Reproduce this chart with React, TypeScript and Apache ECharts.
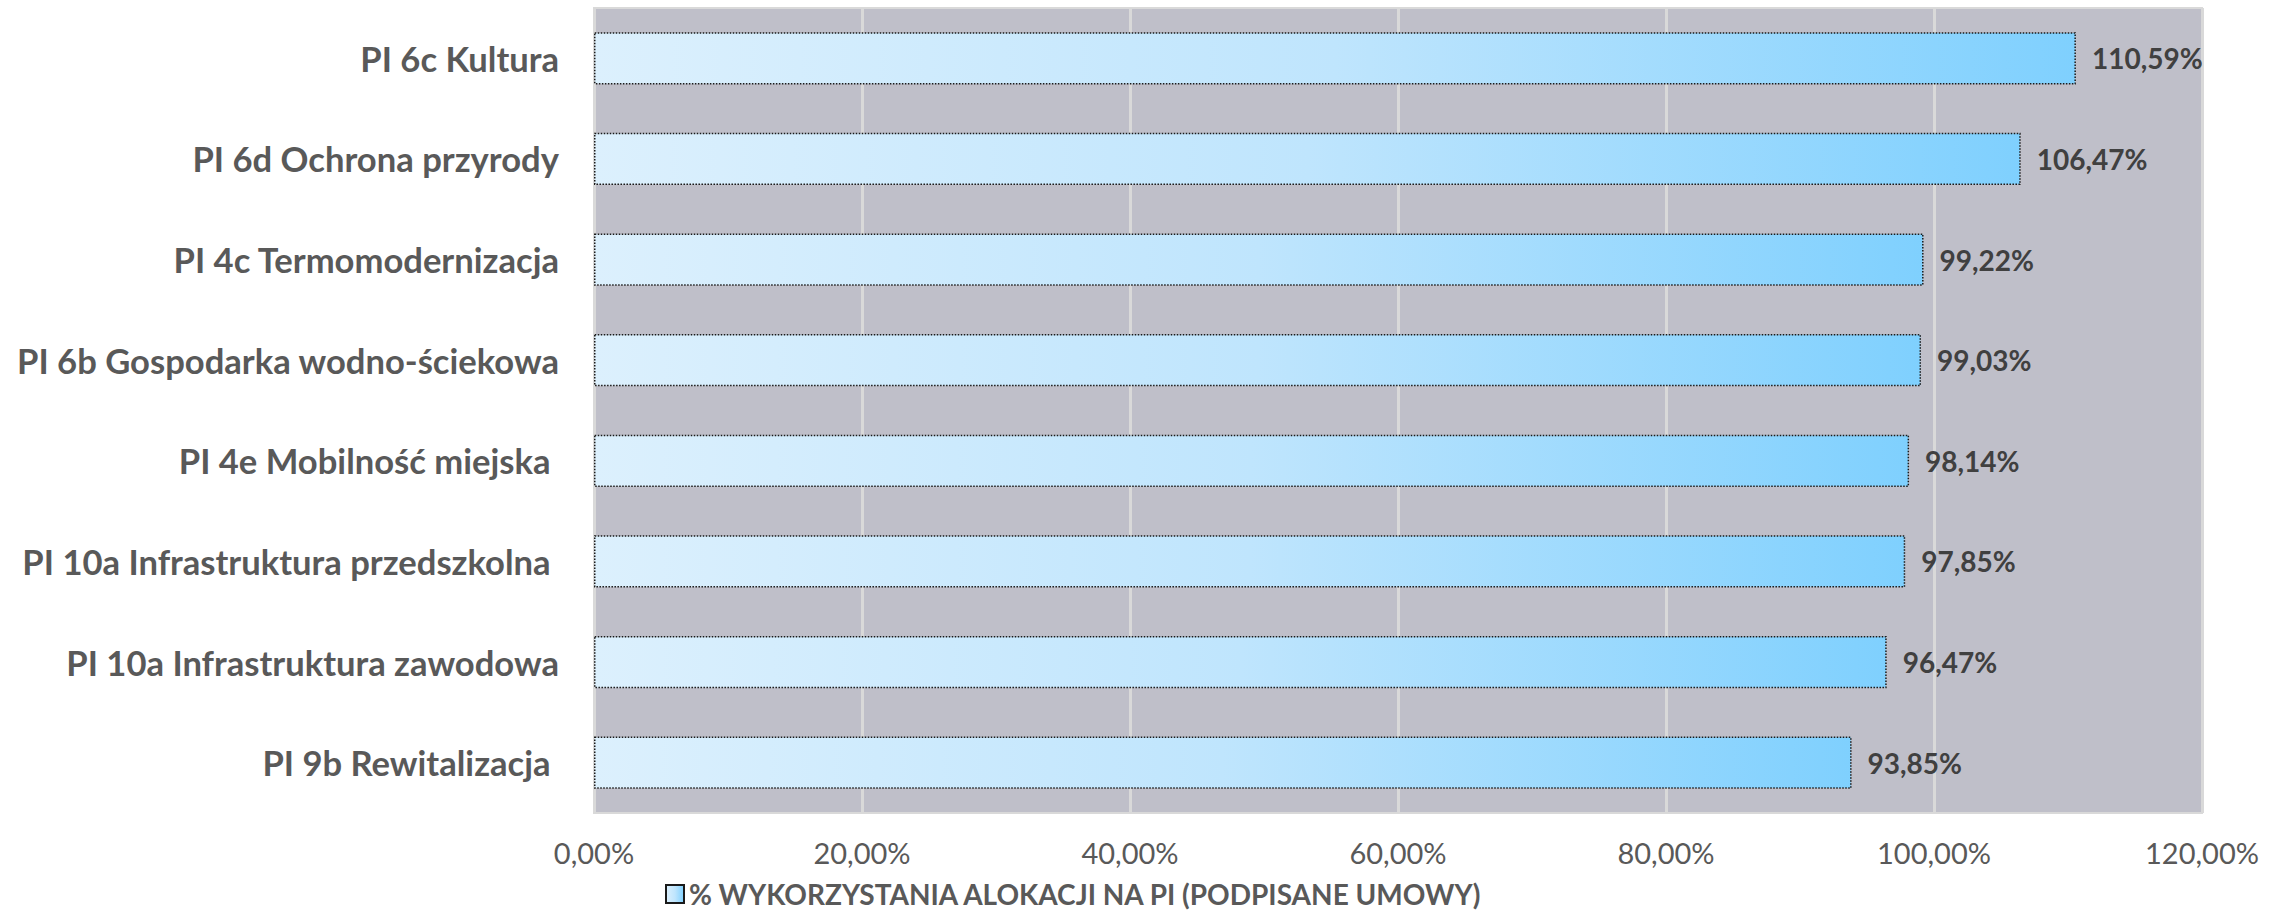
import React, { useEffect, useRef } from "react";
import * as echarts from "echarts";

const categories = [
  "PI 6c Kultura",
  "PI 6d Ochrona przyrody",
  "PI 4c Termomodernizacja",
  "PI 6b Gospodarka wodno-ściekowa",
  "PI 4e Mobilność miejska ",
  "PI 10a Infrastruktura przedszkolna ",
  "PI 10a Infrastruktura zawodowa",
  "PI 9b Rewitalizacja ",
];
const values = [110.59, 106.47, 99.22, 99.03, 98.14, 97.85, 96.47, 93.85];
const seriesName = "% WYKORZYSTANIA ALOKACJI NA PI (PODPISANE UMOWY)";
const axisMin = 0;
const axisMax = 120;
const axisInterval = 20;

const fmt = (v: number) => v.toFixed(2).replace(".", ",") + "%";

export default function App() {
  const ref = useRef<HTMLDivElement>(null);
  useEffect(() => {
    document.body.style.margin = "0";
    const chart = echarts.init(ref.current!, null, { renderer: "svg" });
    const font = "Lato";
    chart.setOption({
      animation: false,
      backgroundColor: "#ffffff",
      textStyle: { fontFamily: font },
      grid: {
        left: 594,
        right: 85,
        top: 8,
        bottom: 98,
        show: true,
        backgroundColor: "#bfbfc9",
        borderColor: "#d9d9d9",
        borderWidth: 2,
        outerBoundsMode: "none",
      },
      legend: {
        show: true,
        left: 665,
        top: 879,
        itemWidth: 18,
        itemHeight: 18,
        itemGap: 8,
        icon: "rect",
        padding: 0,
        textStyle: { fontFamily: font, fontWeight: "bold", fontSize: 28, lineHeight: 30, color: "#595959" },
        data: [seriesName],
      },
      xAxis: {
        type: "value",
        min: axisMin,
        max: axisMax,
        interval: axisInterval,
        axisLine: { show: false },
        axisTick: { show: false },
        splitLine: { show: true, lineStyle: { color: "#d9d9d9", width: 3 } },
        axisLabel: {
          margin: 25,
          fontSize: 29,
          color: "#595959",
          fontFamily: font,
          formatter: (v: number) => fmt(v),
        },
      },
      yAxis: {
        type: "category",
        inverse: true,
        data: categories,
        axisLine: { show: false },
        axisTick: { show: false },
        axisLabel: {
          margin: 35,
          fontSize: 34.6,
          fontWeight: "bold",
          color: "#595959",
          fontFamily: font,
        },
      },
      series: [
        {
          name: seriesName,
          type: "bar",
          data: values,
          barWidth: "52%",
          itemStyle: {
            color: new echarts.graphic.LinearGradient(0, 0, 1, 0, [
              { offset: 0, color: "#dcf0fd" },
              { offset: 0.5, color: "#bfe5fd" },
              { offset: 1, color: "#7fd0fe" },
            ]),
            borderColor: "#1a1a1a",
            borderWidth: 1.5,
            borderType: "dotted",
          },
          label: {
            show: true,
            position: "right",
            distance: 16,
            fontSize: 28,
            fontWeight: "bold",
            color: "#404040",
            fontFamily: font,
            formatter: (p: any) => fmt(p.value),
          },
        },
      ],
    });
    return () => chart.dispose();
  }, []);
  return <div ref={ref} style={{ width: 2287, height: 911 }} />;
}
